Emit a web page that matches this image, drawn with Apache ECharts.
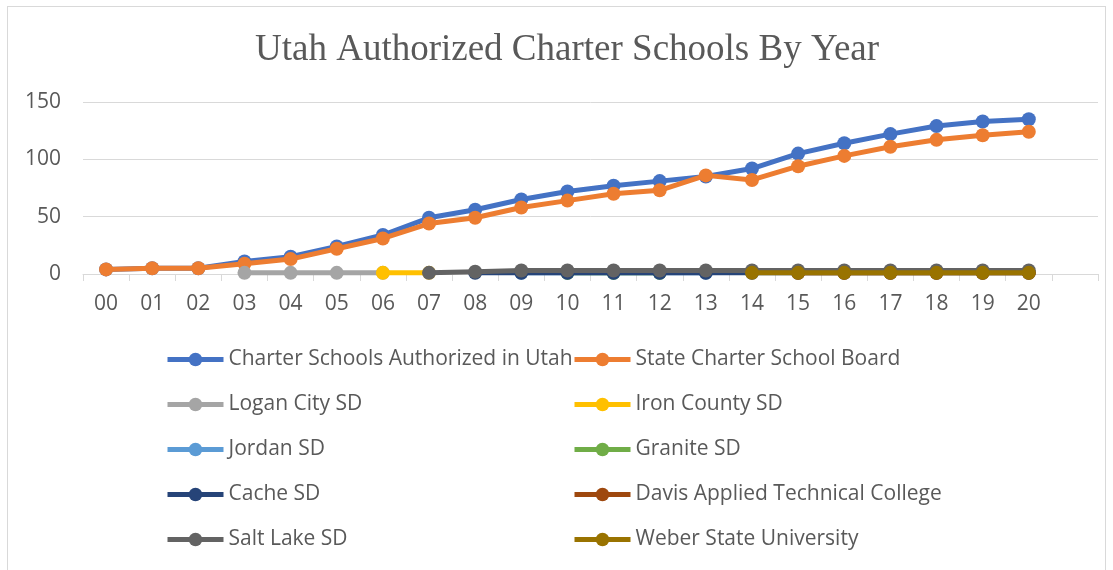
<!DOCTYPE html>
<html>
<head>
<meta charset="UTF-8"/>
<title>Utah Authorized Charter Schools By Year</title>
<script src="https://cdn.jsdelivr.net/npm/echarts@6/dist/echarts.min.js"></script>
<style>
html,body{margin:0;padding:0;background:#fff;}
#frame{position:absolute;left:7px;top:6px;width:1099px;height:580px;border:1px solid #d9d9d9;box-sizing:border-box;}
#main{position:absolute;left:0;top:0;width:1113px;height:570px;}
</style>
<script type="text/javascript">
// years 00..20, plus an empty slot at the end (Excel leaves one)
var years=['00','01','02','03','04','05','06','07','08','09','10','11','12','13','14','15','16','17','18','19','20',''];
var yTicks=[0,50,100,150];
var n=null;
var utahTotal   =[4,5,5,11,15,24,34,49,56,65,72,77,81,85,92,105,114,122,129,133,135,n];
var scsb        =[4,5,5,9,13,22,31,44,49,58,64,70,73,86,82,94,103,111,117,121,124,n];
var loganCity   =[n,n,n,1,1,1,1,n,n,n,n,n,n,n,n,n,n,n,n,n,n,n];
var ironCounty  =[n,n,n,n,n,n,1,1,n,n,n,n,n,n,n,n,n,n,n,n,n,n];
var jordan      =[n,n,n,n,n,n,n,n,n,1,1,1,1,1,n,n,n,n,n,n,n,n];
var granite     =[n,n,n,n,n,n,n,n,n,n,1,1,1,n,n,n,n,n,n,n,n,n];
var cache       =[n,n,n,n,n,n,n,n,1,1,1,1,1,1,1,1,1,1,1,1,1,n];
var davisATC    =[n,n,n,n,n,n,n,n,n,n,n,n,n,n,n,1,1,1,1,1,1,n];
var saltLake    =[n,n,n,n,n,n,n,1,2,3,3,3,3,3,3,3,3,3,3,3,3,n];
var weberState  =[n,n,n,n,n,n,n,n,n,n,n,n,n,n,1,1,1,1,1,1,1,n];

var seriesList=[
  ['Charter Schools Authorized in Utah',utahTotal,'#4472C4'],
  ['State Charter School Board',scsb,'#ED7D31'],
  ['Logan City SD',loganCity,'#A5A5A5'],
  ['Iron County SD',ironCounty,'#FFC000'],
  ['Jordan SD',jordan,'#5B9BD5'],
  ['Granite SD',granite,'#70AD47'],
  ['Cache SD',cache,'#264478'],
  ['Davis Applied Technical College',davisATC,'#9E480E'],
  ['Salt Lake SD',saltLake,'#636363'],
  ['Weber State University',weberState,'#997300']
];

window.onload=function(){
  var myChart=echarts.init(document.getElementById('main'));
  var series=[];
  for(var i=0;i<seriesList.length;i++){
    series.push({
      name:seriesList[i][0],
      type:'line',
      data:seriesList[i][1],
      color:seriesList[i][2],
      symbol:'circle',
      symbolSize:14,
      z:2+i,
      lineStyle:{width:5,color:seriesList[i][2]},
      itemStyle:{color:seriesList[i][2]},
      animation:false
    });
  }
  var leftCol=[],rightCol=[];
  for(var j=0;j<seriesList.length;j++){
    if(j%2==0){leftCol.push(seriesList[j][0]);}else{rightCol.push(seriesList[j][0]);}
  }
  function legendAt(x,names){
    return {
      orient:'vertical',
      left:x,
      top:344,
      height:230,
      data:names,
      itemWidth:56,
      itemHeight:17,
      itemGap:24,
      lineStyle:{width:5},
      textStyle:{color:'#595959',fontSize:21,fontFamily:'Open Sans'}
    };
  }
  var option={
    animation:false,
    title:{
      text:'Utah Authorized Charter Schools By Year',
      left:250,
      top:27,
      textStyle:{fontFamily:'Liberation Serif',fontWeight:'normal',fontSize:37,color:'#595959'}
    },
    legend:[legendAt(160,leftCol),legendAt(567,rightCol)],
    grid:{left:83,right:15,top:102,bottom:296},
    xAxis:{
      type:'category',
      data:years,
      boundaryGap:true,
      axisLine:{lineStyle:{color:'#d9d9d9',width:1}},
      axisTick:{show:true,length:7,lineStyle:{color:'#d9d9d9'}},
      axisLabel:{color:'#595959',fontSize:21,fontFamily:'Open Sans',margin:20,interval:0}
    },
    yAxis:{
      type:'value',
      min:yTicks[0],
      max:yTicks[yTicks.length-1],
      interval:50,
      axisLine:{show:false},
      axisTick:{show:false},
      splitLine:{lineStyle:{color:'#d9d9d9',width:1}},
      axisLabel:{color:'#595959',fontSize:21,fontFamily:'Open Sans',margin:22}
    },
    series:series
  };
  myChart.setOption(option);
};
</script>
</head>
<body>
<div id="frame"></div>
<div id="main"></div>
</body>
</html>
